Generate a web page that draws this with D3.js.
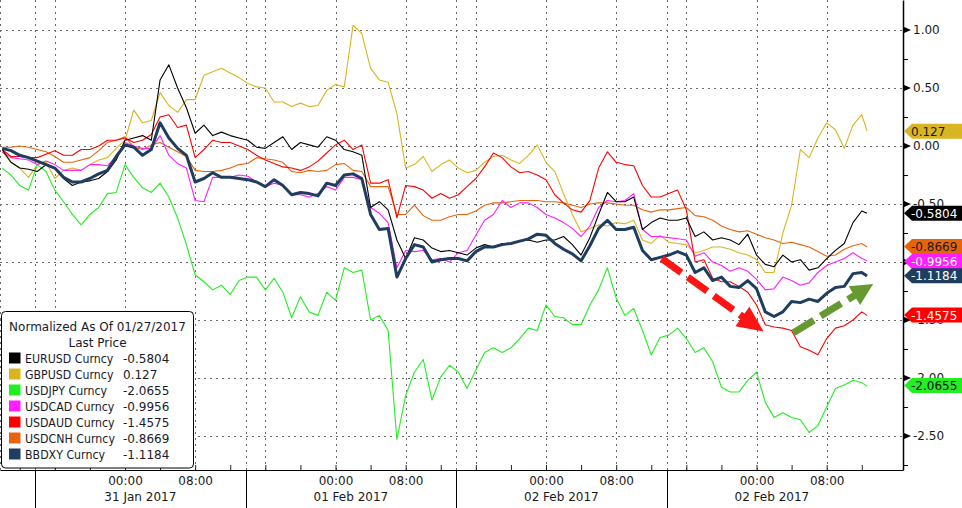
<!DOCTYPE html>
<html><head><meta charset="utf-8">
<script src="https://cdn.jsdelivr.net/npm/d3@7"></script>
<style>
html,body{margin:0;padding:0;background:#fff;}
svg{display:block;font-family:"DejaVu Sans",Verdana,sans-serif;}
</style></head><body>
<svg id="chart" width="962" height="508"></svg>
<script>
// ---------- DATA ----------
// hours relative to 31 Jan 2017 00:00
const hours = [-14,-13,-12,-11,-10,-9,-8,-7,-6,-5,-4,-3,-2,-1,
  0,1,2,3,4,5,6,7,8,9,10,11,12,13,14,15,16,17,18,19,20,21,22,23,24,25,26,27,28,29,
  30,31,32,33,34,35,36,37,38,39,40,41,42,43,44,45,46,47,48,49,50,51,52,53,54,55,56,57,58,59,
  60,61,62,63,64,65,66,67,68,69,70,71,72,73,74,75,76,77,78,79,80,81,82,83,84,84.6];

const EURUSD = [-0.03,-0.14,-0.19,-0.20,-0.22,-0.16,-0.19,-0.28,-0.34,-0.31,-0.30,-0.28,-0.22,-0.12,
  0.05,0.07,0.09,0.05,0.57,0.70,0.50,0.33,0.11,0.18,
  0.09,0.12,0.09,0.07,0.05,-0.01,-0.02,0.03,0.08,-0.03,
  0.03,0.01,-0.01,0.08,0.05,-0.03,-0.05,-0.08,-0.53,-0.48,
  -0.55,-0.81,-0.97,-0.79,-0.81,-0.88,-0.91,-0.90,-0.92,-0.94,
  -0.88,-0.85,-0.87,-0.84,-0.84,-0.82,-0.81,-0.83,-0.81,-0.81,
  -0.78,-0.85,-0.94,-0.79,-0.59,-0.40,-0.48,-0.48,-0.44,-0.72,
  -0.66,-0.62,-0.64,-0.64,-0.62,-0.78,-0.74,-0.81,-0.79,-0.81,
  -0.85,-0.76,-0.94,-1.02,-1.04,-0.94,-1.00,-0.98,-1.07,-1.05,
  -0.97,-0.90,-0.84,-0.66,-0.56,-0.58];

const GBPUSD = [-0.05,-0.14,-0.19,-0.27,-0.16,-0.14,-0.28,-0.21,-0.19,-0.21,-0.16,-0.12,-0.10,-0.02,
  0.05,0.31,0.20,0.22,0.46,0.35,0.29,0.40,0.40,0.61,
  0.64,0.67,0.63,0.59,0.54,0.51,0.50,0.38,0.38,0.34,
  0.37,0.34,0.35,0.48,0.53,0.51,1.04,0.97,0.67,0.57,
  0.55,0.28,-0.19,-0.16,-0.09,-0.22,-0.16,-0.12,-0.19,-0.23,
  -0.21,-0.14,-0.09,-0.08,-0.12,-0.15,-0.08,0.01,-0.14,-0.22,
  -0.41,-0.59,-0.74,-0.71,-0.68,-0.69,-0.66,-0.67,-0.64,-0.81,
  -0.84,-0.77,-0.83,-0.84,-0.85,-0.92,-0.90,-0.87,-0.87,-0.89,
  -0.92,-0.94,-0.98,-1.09,-1.09,-0.75,-0.51,-0.03,-0.10,0.07,
  0.20,0.14,-0.02,0.18,0.27,0.13];

const USDJPY = [-0.19,-0.25,-0.34,-0.38,-0.16,-0.22,-0.38,-0.48,-0.59,-0.68,-0.59,-0.53,-0.41,-0.40,
  -0.16,-0.27,-0.36,-0.40,-0.32,-0.44,-0.62,-0.85,-1.11,-1.17,
  -1.24,-1.20,-1.28,-1.16,-1.13,-1.13,-1.24,-1.14,-1.26,-1.48,
  -1.30,-1.43,-1.46,-1.26,-1.33,-1.05,-1.09,-1.07,-1.50,-1.46,
  -1.59,-2.53,-2.15,-1.95,-1.84,-2.19,-1.99,-1.89,-1.95,-2.09,
  -1.93,-1.78,-1.74,-1.78,-1.74,-1.66,-1.57,-1.59,-1.37,-1.47,
  -1.48,-1.54,-1.54,-1.37,-1.24,-1.05,-1.31,-1.46,-1.40,-1.59,
  -1.80,-1.65,-1.63,-1.57,-1.66,-1.78,-1.74,-1.86,-2.08,-2.12,
  -2.12,-2.02,-1.95,-2.21,-2.34,-2.30,-2.34,-2.36,-2.47,-2.41,
  -2.25,-2.09,-2.06,-2.02,-2.04,-2.07];

const USDCAD = [-0.05,-0.10,-0.11,-0.12,-0.16,-0.13,-0.16,-0.21,-0.21,-0.21,-0.16,-0.16,-0.17,-0.09,
  0.03,0.00,-0.02,-0.02,0.09,-0.08,-0.15,-0.19,-0.47,-0.48,
  -0.27,-0.27,-0.27,-0.25,-0.26,-0.31,-0.35,-0.32,-0.34,-0.42,
  -0.42,-0.44,-0.41,-0.35,-0.38,-0.27,-0.27,-0.29,-0.53,-0.58,
  -0.66,-1.05,-0.90,-0.91,-0.90,-0.98,-0.97,-1.00,-0.92,-0.90,
  -0.77,-0.64,-0.59,-0.47,-0.53,-0.49,-0.49,-0.53,-0.59,-0.62,
  -0.66,-0.71,-0.78,-0.69,-0.53,-0.47,-0.48,-0.47,-0.41,-0.72,
  -0.78,-0.78,-0.79,-0.80,-0.81,-0.95,-0.92,-1.00,-1.03,-1.08,
  -1.05,-1.08,-1.15,-1.24,-1.23,-1.13,-1.16,-1.20,-1.18,-1.09,
  -1.03,-1.00,-0.97,-0.92,-0.97,-0.99];

const USDAUD = [-0.03,-0.09,-0.09,-0.10,-0.10,-0.07,-0.04,-0.08,-0.08,-0.03,-0.03,0.00,0.05,0.05,
  0.07,0.03,0.05,0.10,0.25,0.27,0.16,0.18,-0.10,-0.03,
  0.05,0.03,0.03,0.00,-0.03,-0.08,-0.12,-0.15,-0.18,-0.19,
  -0.21,-0.18,-0.13,-0.06,0.01,0.05,-0.03,0.01,-0.32,-0.32,
  -0.29,-0.62,-0.34,-0.35,-0.38,-0.45,-0.41,-0.45,-0.42,-0.35,
  -0.28,-0.18,-0.06,-0.10,-0.18,-0.23,-0.22,-0.25,-0.29,-0.42,
  -0.49,-0.55,-0.57,-0.47,-0.19,-0.05,-0.14,-0.16,-0.17,-0.34,
  -0.44,-0.44,-0.41,-0.38,-0.55,-1.00,-0.98,-1.14,-1.17,-1.17,
  -1.21,-1.26,-1.37,-1.54,-1.56,-1.57,-1.59,-1.73,-1.76,-1.80,
  -1.66,-1.57,-1.55,-1.50,-1.43,-1.46];

const USDCNH = [-0.01,-0.01,0.00,-0.01,-0.03,-0.05,-0.09,-0.14,-0.14,-0.12,-0.10,-0.04,0.03,0.05,
  0.08,-0.01,-0.03,0.01,0.03,-0.01,-0.05,-0.09,-0.21,-0.22,
  -0.22,-0.21,-0.19,-0.16,-0.15,-0.10,-0.11,-0.12,-0.14,-0.22,
  -0.23,-0.21,-0.22,-0.21,-0.16,-0.15,-0.21,-0.22,-0.35,-0.35,
  -0.35,-0.59,-0.59,-0.51,-0.60,-0.64,-0.64,-0.61,-0.59,-0.59,
  -0.56,-0.51,-0.49,-0.49,-0.48,-0.47,-0.47,-0.47,-0.48,-0.48,
  -0.49,-0.51,-0.53,-0.50,-0.49,-0.49,-0.50,-0.51,-0.51,-0.55,
  -0.57,-0.55,-0.55,-0.54,-0.53,-0.60,-0.61,-0.64,-0.69,-0.72,
  -0.74,-0.73,-0.76,-0.79,-0.81,-0.84,-0.83,-0.85,-0.87,-0.91,
  -0.95,-0.94,-0.89,-0.86,-0.84,-0.87];

const BBDXY = [-0.02,-0.04,-0.08,-0.10,-0.13,-0.16,-0.19,-0.27,-0.31,-0.31,-0.28,-0.24,-0.21,-0.09,
  0.01,-0.01,-0.08,-0.03,0.20,0.07,-0.02,-0.08,-0.31,-0.28,
  -0.23,-0.27,-0.27,-0.28,-0.29,-0.31,-0.35,-0.29,-0.34,-0.42,
  -0.40,-0.41,-0.43,-0.32,-0.34,-0.25,-0.24,-0.28,-0.59,-0.72,
  -0.71,-1.13,-0.97,-0.85,-0.87,-1.00,-0.98,-0.97,-0.97,-0.99,
  -0.91,-0.87,-0.87,-0.85,-0.84,-0.82,-0.80,-0.76,-0.77,-0.84,
  -0.89,-0.93,-0.99,-0.86,-0.71,-0.64,-0.72,-0.72,-0.70,-0.90,
  -0.98,-0.96,-0.94,-0.91,-0.94,-1.09,-1.05,-1.16,-1.13,-1.21,
  -1.22,-1.16,-1.23,-1.43,-1.47,-1.43,-1.34,-1.35,-1.32,-1.34,
  -1.27,-1.22,-1.21,-1.10,-1.09,-1.12];

const seriesNames = ["EURUSD Curncy","GBPUSD Curncy","USDJPY Curncy","USDCAD Curncy","USDAUD Curncy","USDCNH Curncy","BBDXY Curncy"];
const seriesValues = [EURUSD, GBPUSD, USDJPY, USDCAD, USDAUD, USDCNH, BBDXY];
const lastValues = [-0.5804, 0.127, -2.0655, -0.9956, -1.4575, -0.8669, -1.1184];

const yTicks = [-2.5,-2.0,-1.5,-1.0,-0.5,0,0.5,1.0];
const yMinorTicks = [-2.75,-2.25,-1.75,-1.25,-0.75,-0.25,0.25,0.75];
const xMinorTicks = [-12,-8,-4,0,4,8,12,16,20,24,28,32,36,40,44,48,52,56,60,64,68,72,76,80,84];
const xGridHours = [-8,0,8,16,24,32,40,48,56,64,72,80];
const timeLabelHours = [0,8,24,32,48,56,72,80];
const timeLabels = ["00:00","08:00","00:00","08:00","00:00","08:00","00:00","08:00"];
const sectionBounds = [-10.25,13.75,37.75,61.75,85.75];
const dateLabels = ["31 Jan 2017","01 Feb 2017","02 Feb 2017","02 Feb 2017"];
const legendTitle = ["Normalized As Of 01/27/2017","Last Price"];
// annotation arrows: [hour, value] start and tip
const arrowFrom = [[61.2,-0.97],[76.2,-1.61]];
const arrowTo = [[72.8,-1.60],[85.3,-1.19]];

// ---------- STYLES ----------
const lineColors = ["#000000","#d9b521","#22ee22","#ff1eff","#ff0000","#e8640c","#1f3d5f"];
const lineWidths = [1.1,1.1,1.1,1.1,1.1,1.1,3];
const tagText = ["#ffffff","#1a1a1a","#111111","#ffffff","#ffffff","#1a1a1a","#ffffff"];
const arrowColors = ["#ff1414","#669a30"];

// ---------- CHART ----------
const W = 903, H = 470;
const svg = d3.select("#chart");
const x = d3.scaleLinear().domain([-14.25, 88.7]).range([0, W]);
const y = d3.scaleLinear().domain([-2.793, 1.259]).range([H, 0]);

const grid = svg.append("g").attr("stroke","#6a6a6a").attr("stroke-width",1).attr("stroke-dasharray","2,4").attr("fill","none");
yTicks.forEach(v => grid.append("line").attr("x1",0).attr("x2",W).attr("y1",Math.round(y(v))+0.5).attr("y2",Math.round(y(v))+0.5));
xGridHours.concat(sectionBounds.slice(0,4)).forEach(h => grid.append("line")
  .attr("x1",Math.round(x(h))+0.5).attr("x2",Math.round(x(h))+0.5).attr("y1",0).attr("y2",H));
grid.append("line").attr("x1",0.5).attr("x2",0.5).attr("y1",0).attr("y2",H);

// lines
const line = d3.line().x((d,i)=>x(hours[i])).y(d=>y(d));
const drawOrder = [5,1,2,3,4,0,6];
const linesG = svg.append("g").attr("fill","none").attr("stroke-linejoin","round");
drawOrder.forEach(i => linesG.append("path").datum(seriesValues[i])
  .attr("d",line).attr("stroke",lineColors[i]).attr("stroke-width",lineWidths[i]));

// arrows
arrowFrom.forEach((f,i) => {
  const x0 = x(f[0]), y0 = y(f[1]), x1 = x(arrowTo[i][0]), y1 = y(arrowTo[i][1]);
  const dx = x1-x0, dy = y1-y0, L = Math.hypot(dx,dy), ux = dx/L, uy = dy/L;
  const headL = i===0 ? 26 : 22, headW = i===0 ? 12 : 11;
  const bx = x1-ux*headL, by = y1-uy*headL;
  svg.append("line").attr("x1",x0).attr("y1",y0).attr("x2",bx+ux*2).attr("y2",by+uy*2)
    .attr("stroke",arrowColors[i]).attr("stroke-width",7).attr("stroke-dasharray","24,8");
  svg.append("path").attr("d",`M${x1},${y1}L${bx-uy*headW},${by+ux*headW}L${bx+uy*headW},${by-ux*headW}Z`)
    .attr("fill",arrowColors[i]);
});

// x axis
const xAxis = svg.append("g").attr("transform",`translate(0,${H})`)
  .call(d3.axisBottom(x).tickValues(xMinorTicks).tickSize(-5).tickSizeOuter(0).tickFormat(""));
xAxis.select(".domain").attr("stroke","#000").attr("stroke-width",1.2);
xAxis.selectAll(".tick line").attr("stroke","#222");
const xLab = svg.append("g").attr("transform",`translate(0,${H})`)
  .call(d3.axisBottom(x).tickValues(timeLabelHours).tickSize(0).tickPadding(6.5).tickFormat((d,i)=>timeLabels[i]));
xLab.select(".domain").remove();
xLab.selectAll("text").attr("font-size",12).attr("fill","#1a1a1a").attr("font-family","DejaVu Sans");
sectionBounds.slice(0,4).forEach((h,i) => {
  svg.append("line").attr("x1",Math.round(x(h))+0.5).attr("x2",Math.round(x(h))+0.5).attr("y1",H).attr("y2",508)
    .attr("stroke","#000").attr("stroke-width",1);
  svg.append("text").attr("x",(x(h)+x(sectionBounds[i+1]))/2).attr("y",501).attr("text-anchor","middle")
    .attr("font-size",12).attr("fill","#1a1a1a").text(dateLabels[i]);
});

// y axis (right)
const yAxis = svg.append("g").attr("transform",`translate(${W},0)`)
  .call(d3.axisRight(y).tickValues(yTicks).tickSize(0).tickSizeOuter(0).tickPadding(10).tickFormat(v=>v.toFixed(2)));
yAxis.select(".domain").attr("stroke","#000").attr("stroke-width",1.5);
yAxis.selectAll("text").attr("font-size",12).attr("fill","#1a1a1a").attr("font-family","DejaVu Sans");
yTicks.forEach(v => svg.append("path").attr("d",`M${W},${y(v)-3.5}L${W+8},${y(v)}L${W},${y(v)+3.5}Z`).attr("fill","#000"));
const yMin = svg.append("g").attr("transform",`translate(${W},0)`)
  .call(d3.axisRight(y).tickValues(yMinorTicks).tickSize(5).tickFormat(""));
yMin.select(".domain").remove();
yMin.selectAll(".tick line").attr("stroke","#000");

// value tags
const tagOrder = [1,0,5,3,6,4,2];
tagOrder.forEach(i => {
  const cy = y(lastValues[i]);
  const g = svg.append("g");
  g.append("path").attr("d",`M${W+1},${cy}L${W+9},${cy-7.5}L962,${cy-7.5}L962,${cy+7.5}L${W+9},${cy+7.5}Z`)
    .attr("fill",lineColors[i]);
  g.append("text").attr("x",W+8).attr("y",cy+4.5).attr("font-size",12).attr("fill",tagText[i]).text(String(lastValues[i]));
});

// legend
const lg = svg.append("g");
lg.append("rect").attr("x",1.5).attr("y",311.5).attr("width",192).attr("height",156.5).attr("rx",4)
  .attr("fill","#fff").attr("stroke","#000").attr("stroke-width",1);
legendTitle.forEach((t,i) => lg.append("text").attr("x",97.5).attr("y",331+16*i).attr("text-anchor","middle")
  .attr("font-size",12).attr("fill","#1a1a2a").text(t));
seriesNames.forEach((n,i) => {
  const by = 363 + 16*i;
  lg.append("rect").attr("x",9).attr("y",by-10.5).attr("width",11.5).attr("height",11).attr("fill",lineColors[i]);
  lg.append("text").attr("transform",`translate(25,${by}) scale(0.92,1)`).attr("font-size",12).attr("fill","#1a1a2a").text(n);
  lg.append("text").attr("x",123).attr("y",by).attr("font-size",12).attr("fill","#1a1a2a").text(String(lastValues[i]));
});
</script>
</body></html>
